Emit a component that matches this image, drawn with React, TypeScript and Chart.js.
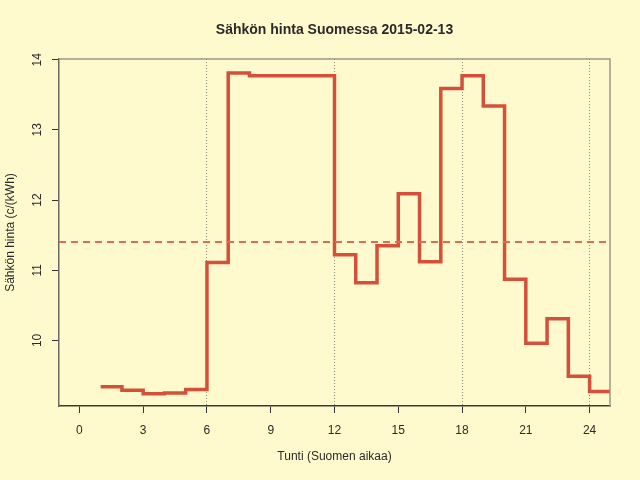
import { useEffect, useRef } from "react"
import { Chart, registerables } from "chart.js"

Chart.register(...registerables)

const chartTitle = "Sähkön hinta Suomessa 2015-02-13"
const xTitle = "Tunti (Suomen aikaa)"
const yTitle = "Sähkön hinta (c/(kWh)"

// hour where each price step starts, and the price for that hour (c/kWh)
const hours = [1, 2, 3, 4, 5, 6, 7, 8, 9, 10, 11, 12, 13, 14, 15, 16, 17, 18, 19, 20, 21, 22, 23, 24]
const prices = [
  9.34, 9.29, 9.24, 9.25, 9.3, 11.11, 13.81, 13.77, 13.77, 13.77, 13.77, 11.22,
  10.82, 11.35, 12.09, 11.12, 13.59, 13.77, 13.34, 10.87, 9.96, 10.31, 9.49, 9.27,
]

const xTicks = [0, 3, 6, 9, 12, 15, 18, 21, 24]
const yTicks = [10, 11, 12, 13, 14]
const gridHours = [6, 12, 18, 24]

const xMin = -0.96
const xMax = 24.96
const yMin = 9.065
const yMax = 14.01

const lineColor = "#d5503a"
const textColor = "#2a2a2a"
const font = "'Liberation Sans', Arial, sans-serif"

const framePlugin = {
  id: "frame",
  afterDatasetsDraw(chart: Chart) {
    const { ctx, chartArea } = chart
    ctx.save()
    ctx.strokeStyle = "#9c9888"
    ctx.lineWidth = 1.5
    ctx.beginPath()
    ctx.moveTo(chartArea.left, chartArea.top)
    ctx.lineTo(chartArea.right, chartArea.top)
    ctx.lineTo(chartArea.right, chartArea.bottom)
    ctx.stroke()
    ctx.restore()
  },
}

export default function App() {
  const canvasRef = useRef<HTMLCanvasElement>(null)

  useEffect(() => {
    if (!canvasRef.current) return

    const mean = prices.reduce((a, b) => a + b, 0) / prices.length
    // last step runs to the end of hour 24
    const steps = hours.map((h, i) => ({ x: h, y: prices[i] }))
    steps.push({ x: hours[hours.length - 1] + 1, y: prices[prices.length - 1] })

    const chart = new Chart(canvasRef.current, {
      type: "line",
      data: {
        datasets: [
          {
            label: "mean",
            data: [
              { x: xMin, y: mean },
              { x: xMax, y: mean },
            ],
            borderColor: "#df6a55",
            borderWidth: 2,
            borderDash: [7, 5],
            pointRadius: 0,
            clip: 0,
          },
          {
            label: "hinta",
            data: steps,
            stepped: "before",
            borderColor: lineColor,
            borderWidth: 3.5,
            pointRadius: 0,
            clip: 0,
          },
        ],
      },
      options: {
        responsive: true,
        maintainAspectRatio: false,
        animation: false,
        layout: { padding: { left: 0, right: 30, top: 0, bottom: 0 } },
        scales: {
          x: {
            type: "linear",
            min: xMin,
            max: xMax,
            afterBuildTicks: (axis) => {
              axis.ticks = xTicks.map((v) => ({ value: v }))
            },
            afterFit: (axis) => {
              axis.height = 74
            },
            ticks: {
              color: textColor,
              font: { family: font, size: 12 },
              padding: 10,
              maxRotation: 0,
              callback: (v) => String(v),
            },
            grid: {
              color: (ctx) => (gridHours.includes(ctx.tick?.value) ? "#8a8a80" : "transparent"),
              lineWidth: 1,
              tickColor: "#333",
              tickLength: 7,
            },
            border: { display: true, color: "#3a3a3a", width: 1.5, dash: [1, 2] },
            title: {
              display: true,
              text: xTitle,
              color: textColor,
              font: { family: font, size: 12 },
              padding: { top: 0, bottom: 16 },
            },
          },
          y: {
            type: "linear",
            min: yMin,
            max: yMax,
            afterBuildTicks: (axis) => {
              axis.ticks = yTicks.map((v) => ({ value: v }))
            },
            afterFit: (axis) => {
              axis.width = 59
            },
            ticks: {
              color: textColor,
              font: { family: font, size: 12 },
              padding: 8,
              minRotation: 90,
              maxRotation: 90,
              crossAlign: "center",
              callback: (v) => String(v),
            },
            grid: {
              drawOnChartArea: false,
              tickColor: "#333",
              tickLength: 7,
            },
            border: { display: true, color: "#6a6a62", width: 1.5 },
            title: {
              display: true,
              text: yTitle,
              color: textColor,
              font: { family: font, size: 12 },
              padding: { top: 3, bottom: 0 },
            },
          },
        },
        plugins: {
          legend: { display: false },
          tooltip: { enabled: false },
          title: {
            display: true,
            text: chartTitle,
            color: textColor,
            fullSize: false,
            font: { family: font, size: 14, weight: "bold" },
            padding: { top: 22, bottom: 20.2 },
          },
        },
      },
      plugins: [framePlugin],
    })

    return () => {
      chart.destroy()
    }
  }, [])

  return (
    <div
      style={{
        position: "fixed",
        left: 0,
        top: 0,
        width: 640,
        height: 480,
        background: "#fffacd",
      }}
    >
      <canvas ref={canvasRef} />
    </div>
  )
}
